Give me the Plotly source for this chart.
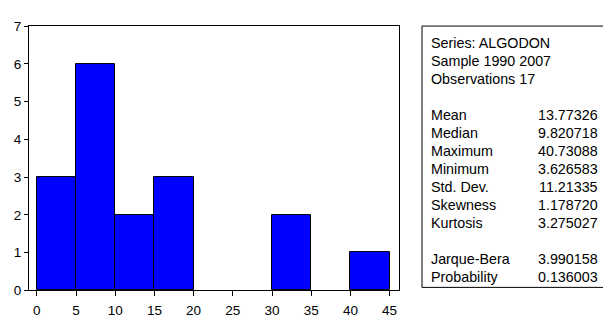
import plotly.graph_objects as go

# Histogram data (bin left edges, width 5)
bin_left = [0, 5, 10, 15, 30, 40]
counts = [3, 6, 2, 3, 2, 1]
bin_width = 5
x_ticks = [0, 5, 10, 15, 20, 25, 30, 35, 40, 45]
y_ticks = [0, 1, 2, 3, 4, 5, 6, 7]

# Stats panel
header_lines = ["Series: ALGODON", "Sample 1990 2007", "Observations 17"]
stat_names = ["Mean", "Median", "Maximum", "Minimum", "Std. Dev.", "Skewness", "Kurtosis"]
stat_values = ["13.77326", "9.820718", "40.73088", "3.626583", "11.21335", "1.178720", "3.275027"]
test_names = ["Jarque-Bera", "Probability"]
test_values = ["3.990158", "0.136003"]

W, H = 603, 324
FONT = "Arial, Liberation Sans, sans-serif"
TICK_SIZE = 13.5
TEXT_SIZE = 14.3

centers = [b + bin_width / 2 for b in bin_left]

fig = go.Figure()
fig.add_trace(go.Bar(
    x=centers, y=counts, width=[bin_width] * len(counts),
    marker=dict(color="#0000FF", line=dict(color="#000000", width=1)),
    showlegend=False, hoverinfo="skip",
))

def px_x(p):
    return p / W

def px_y(p):
    return 1 - p / H

fig.update_layout(
    width=W, height=H, autosize=False,
    margin=dict(l=0, r=0, t=0, b=0),
    paper_bgcolor="white", plot_bgcolor="white",
    font=dict(family=FONT, size=12, color="black"),
    bargap=0,
    xaxis=dict(
        domain=[px_x(29), px_x(399)],
        range=[-1.0, 46.2],
        tickvals=x_ticks, ticktext=[str(t) for t in x_ticks],
        ticks="outside", ticklen=5, tickcolor="black", tickwidth=1,
        ticklabelstandoff=3,
        showline=True, linecolor="black", linewidth=1, mirror=True,
        showgrid=False, zeroline=False,
        tickfont=dict(family=FONT, size=TICK_SIZE, color="black"),
    ),
    yaxis=dict(
        domain=[px_y(297), px_y(20)],
        range=[0, 7],
        tickvals=y_ticks, ticktext=[str(t) for t in y_ticks],
        ticks="outside", ticklen=4, tickcolor="black", tickwidth=1,
        showline=True, linecolor="black", linewidth=1, mirror=True,
        showgrid=False, zeroline=False,
        tickfont=dict(family=FONT, size=TICK_SIZE, color="black"),
    ),
)

# Stats box (right edge lies just beyond the visible page)
box_l, box_r, box_t, box_b = 422, 606, 20, 294
fig.add_shape(type="rect", xref="paper", yref="paper",
              x0=px_x(box_l), x1=px_x(box_r), y0=px_y(box_b), y1=px_y(box_t),
              line=dict(color="black", width=1), fillcolor="rgba(0,0,0,0)")

label_x = 429
value_r = 600
row0 = 37.5
step = 18.9

rows = []
for t in header_lines:
    rows.append((t, None))
rows.append(None)
for n, v in zip(stat_names, stat_values):
    rows.append((n, v))
rows.append(None)
for n, v in zip(test_names, test_values):
    rows.append((n, v))

for i, r in enumerate(rows):
    if r is None:
        continue
    y = row0 + i * step
    name, val = r
    fig.add_annotation(xref="paper", yref="paper", x=px_x(label_x), y=px_y(y),
                       text=name, showarrow=False, xanchor="left", yanchor="middle",
                       font=dict(family=FONT, size=TEXT_SIZE, color="black"))
    if val is not None:
        fig.add_annotation(xref="paper", yref="paper", x=px_x(value_r), y=px_y(y),
                           text=val, showarrow=False, xanchor="right", yanchor="middle",
                           font=dict(family=FONT, size=TEXT_SIZE, color="black"))

fig.write_html(
    "out.html",
    config={"displayModeBar": False},
    post_script="document.body.style.margin='0';document.body.style.overflow='hidden';",
)
